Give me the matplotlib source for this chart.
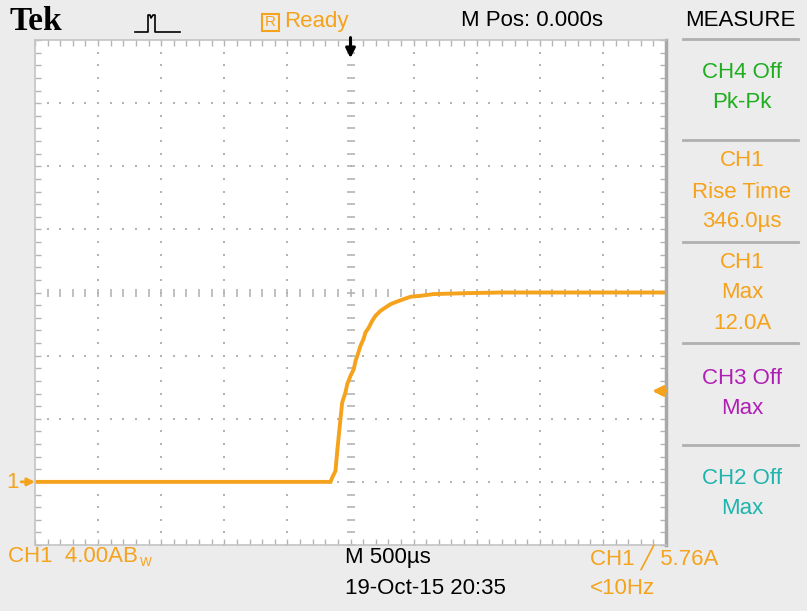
import numpy as np
import matplotlib
matplotlib.use('Agg')
import matplotlib.pyplot as plt
from matplotlib.lines import Line2D
from matplotlib.patches import Rectangle

# trace: time (us) vs current (A)
t_us = [-2500, -158, -145, -119, -105, -85, -66, -40, -26, 0, 26, 40, 58, 79, 103,
        119, 145, 172, 198, 238, 277, 317, 370, 422, 475, 555, 658, 925, 1189, 2500]
amps = [0.0, 0.0, 0.27, 0.70, 1.97, 3.55, 5.03, 5.66, 6.19, 6.72, 7.14, 7.67, 8.09, 8.62, 9.05,
        9.47, 9.78, 10.21, 10.52, 10.84, 11.05, 11.26, 11.43, 11.58, 11.73, 11.79, 11.9, 11.96, 12.0, 12.0]

time_per_div = 500.0   # us
amps_per_div = 4.0     # A
trig_level = 5.76

measure_lines = [
    [("CH4 Off", '#1fae1f'), ("Pk-Pk", '#1fae1f')],
    [("CH1", '#f5a21c'), ("Rise Time", '#f5a21c'), ("346.0\u00b5s", '#f5a21c')],
    [("CH1", '#f5a21c'), ("Max", '#f5a21c'), ("12.0A", '#f5a21c')],
    [("CH3 Off", '#b01fb5'), ("Max", '#b01fb5')],
    [("CH2 Off", '#1fb4ae'), ("Max", '#1fb4ae')],
]
measure_y = [[72, 103], [161, 192, 222], [262, 293, 323], [378, 408], [479, 509]]
sep_y = [39, 140, 242, 343, 445]

ORANGE = '#f5a21c'
GRID = '#b4b4b4'
W, H = 807, 611
FONT = ['Liberation Sans', 'DejaVu Sans']
FS = 16


def fx(x):
    return x / W


def fy(y):
    return 1 - y / H


fig = plt.figure(figsize=(W / 100, H / 100), dpi=100, facecolor='#ececec')
ax = fig.add_axes([fx(35), fy(545), 631 / W, 505 / H])
ax.set_facecolor('white')

xlo, xhi = -5 * time_per_div, 5 * time_per_div
ylo, yhi = -1 * amps_per_div, 7 * amps_per_div
ax.set_xlim(xlo, xhi)
ax.set_ylim(ylo, yhi)

xmaj = np.arange(xlo, xhi + 1, time_per_div)
ymaj = np.arange(ylo, yhi + 0.01, amps_per_div)
xmin = np.arange(xlo, xhi + 1, time_per_div / 5)
ymin = np.arange(ylo, yhi + 0.01, amps_per_div / 5)
ax.set_xticks(xmaj)
ax.set_yticks(ymaj)
ax.set_xticks(xmin, minor=True)
ax.set_yticks(ymin, minor=True)
ax.tick_params(which='both', direction='in', length=4.5, width=1, color=GRID,
               top=True, right=True, labelbottom=False, labelleft=False)
for s in ax.spines.values():
    s.set_color('#c4c4c4')
    s.set_linewidth(1.2)
ax.spines['right'].set_color('#a8a8a8')
ax.spines['right'].set_linewidth(2.5)

xc = 0.0
yc = 3 * amps_per_div
# dotted graticule
for gx in xmaj[1:-1]:
    if gx == xc:
        continue
    ax.plot(np.full_like(ymin, gx), ymin, ls='none', marker='s', ms=1.6, mew=0, color=GRID)
for gy in ymaj[1:-1]:
    if gy == yc:
        continue
    ax.plot(xmin, np.full_like(xmin, gy), ls='none', marker='s', ms=1.6, mew=0, color=GRID)
# center crosshair with small ticks
ax.plot(xmin, np.full_like(xmin, yc), ls='none', marker='|', ms=6, mew=1.2, color=GRID)
ax.plot(np.full_like(ymin, xc), ymin, ls='none', marker='_', ms=6, mew=1.2, color=GRID)

# trace
ax.plot(t_us, amps, color=ORANGE, lw=2.8, solid_joinstyle='miter')

# trigger position arrow (top) and level arrow (right)
ax.annotate('', xy=(0, yhi - 1.15), xytext=(0, yhi + 0.15),
            arrowprops=dict(arrowstyle='-|>', color='black', lw=2.2, mutation_scale=14,
                            shrinkA=0, shrinkB=0),
            annotation_clip=False)
ax.annotate('', xy=(xhi - 0.22 * time_per_div, trig_level), xytext=(xhi, trig_level),
            arrowprops=dict(arrowstyle='-|>', color=ORANGE, lw=2.5, mutation_scale=15,
                            shrinkA=0, shrinkB=0))
# ground marker for CH1
ax.annotate('', xy=(xlo, 0), xytext=(xlo - 0.22 * time_per_div, 0),
            arrowprops=dict(arrowstyle='-|>', color=ORANGE, lw=2, mutation_scale=11,
                            shrinkA=0, shrinkB=0),
            annotation_clip=False)
fig.text(fx(13), fy(482), "1", color=ORANGE, fontsize=FS, family=FONT, ha='center', va='center')

# header
fig.text(fx(9), fy(22), "Tek", family=['Liberation Serif', 'DejaVu Serif'], fontweight='bold',
         fontsize=24, color='black', va='center', ha='left')
icon_x = [135, 146, 146, 148, 148, 150, 151, 153, 153, 155, 155, 180]
icon_y = [32, 32, 32, 32, 15, 15, 18, 15, 15, 15, 32, 32]
fig.add_artist(Line2D([fx(v) for v in icon_x], [fy(v) for v in icon_y],
                      transform=fig.transFigure, color='black', lw=1.2))
fig.add_artist(Rectangle((fx(262), fy(31)), 17 / W, 17 / H, transform=fig.transFigure,
                         fill=False, edgecolor=ORANGE, lw=1.5))
fig.text(fx(270.5), fy(22.5), "R", color=ORANGE, fontsize=11, family=FONT, ha='center', va='center')
fig.text(fx(284), fy(21), "Ready", color=ORANGE, fontsize=FS, family=FONT, ha='left', va='center')
fig.text(fx(532), fy(21), "M Pos: 0.000s", color='black', fontsize=FS, family=FONT,
         ha='center', va='center')
fig.text(fx(740), fy(20), "MEASURE", color='black', fontsize=FS, family=FONT,
         ha='center', va='center')

# measurement panel
for yy in sep_y:
    fig.add_artist(Line2D([fx(683), fx(798)], [fy(yy), fy(yy)], transform=fig.transFigure,
                          color='#b0b0b0', lw=2))
for block, ys in zip(measure_lines, measure_y):
    for (txt, col), yy in zip(block, ys):
        fig.text(fx(742), fy(yy), txt, color=col, fontsize=FS, family=FONT,
                 ha='center', va='center')

# footer
fig.text(fx(8), fy(557), "CH1  4.00AB", color=ORANGE, fontsize=FS, family=FONT,
         ha='left', va='center')
fig.text(fx(140), fy(563), "W", color=ORANGE, fontsize=9, family=FONT, ha='left', va='center')
fig.text(fx(345), fy(557), "M 500\u00b5s", color='black', fontsize=FS, family=FONT,
         ha='left', va='center')
fig.text(fx(345), fy(588), "19-Oct-15 20:35", color='black', fontsize=FS, family=FONT,
         ha='left', va='center')
fig.text(fx(590), fy(557), "CH1 \u2571 5.76A", color=ORANGE, fontsize=FS, family=FONT,
         ha='left', va='center')
fig.text(fx(590), fy(588), "<10Hz", color=ORANGE, fontsize=FS, family=FONT,
         ha='left', va='center')

fig.savefig('out.png', dpi=100, facecolor=fig.get_facecolor())
